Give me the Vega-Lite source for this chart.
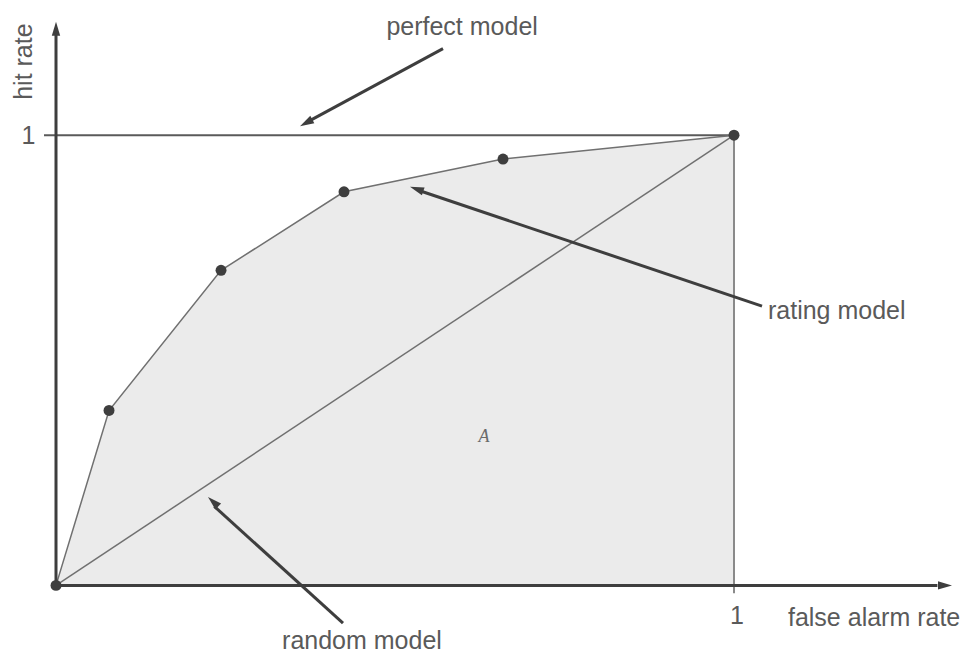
{
  "$schema": "https://vega.github.io/schema/vega-lite/v6.json",
  "width": 962,
  "height": 654,
  "padding": 0,
  "autosize": {"type": "fit", "contains": "padding"},
  "background": "white",
  "config": {"view": {"stroke": null}},
  "datasets": {
    "roc": [
      {"far": 0, "hit": 0},
      {"far": 0.0782, "hit": 0.3885},
      {"far": 0.2434, "hit": 0.6998},
      {"far": 0.4248, "hit": 0.8742},
      {"far": 0.6593, "hit": 0.947},
      {"far": 1, "hit": 1}
    ]
  },
  "encoding": {
    "x": {"type": "quantitative", "scale": {"domain": [-0.0826, 1.33628], "nice": false, "zero": false}, "axis": null},
    "y": {"type": "quantitative", "scale": {"domain": [-0.14349, 1.30022], "nice": false, "zero": false}, "axis": null}
  },
  "layer": [
    {
      "data": {"name": "roc"},
      "mark": {"type": "area", "color": "#ebebeb", "opacity": 1},
      "encoding": {
        "x": {"field": "far", "type": "quantitative"},
        "y": {"field": "hit", "type": "quantitative"},
        "y2": {"datum": 0}
      }
    },
    {
      "data": {"values": [{"x": 0, "y": 0, "x2": 1, "y2": 1}]},
      "mark": {"type": "rule", "color": "#707070", "strokeWidth": 1.5},
      "encoding": {
        "x": {"field": "x", "type": "quantitative"},
        "y": {"field": "y", "type": "quantitative"},
        "x2": {"field": "x2"},
        "y2": {"field": "y2"}
      }
    },
    {
      "data": {"values": [{"x": -0.0177, "y": 1, "x2": 1, "y2": 1}]},
      "mark": {"type": "rule", "color": "#5a5a5a", "strokeWidth": 2},
      "encoding": {
        "x": {"field": "x", "type": "quantitative"},
        "y": {"field": "y", "type": "quantitative"},
        "x2": {"field": "x2"},
        "y2": {"field": "y2"}
      }
    },
    {
      "data": {"values": [{"x": 1, "y": -0.0177, "x2": 1, "y2": 1}]},
      "mark": {"type": "rule", "color": "#8a8a8a", "strokeWidth": 2},
      "encoding": {
        "x": {"field": "x", "type": "quantitative"},
        "y": {"field": "y", "type": "quantitative"},
        "x2": {"field": "x2"},
        "y2": {"field": "y2"}
      }
    },
    {
      "data": {"name": "roc"},
      "mark": {"type": "line", "color": "#707070", "strokeWidth": 1.5},
      "encoding": {
        "x": {"field": "far", "type": "quantitative"},
        "y": {"field": "hit", "type": "quantitative"}
      }
    },
    {
      "data": {"values": [
        {"x": 0, "y": 0, "x2": 0, "y2": 1.235},
        {"x": 0, "y": 0, "x2": 1.30, "y2": 0}
      ]},
      "mark": {"type": "rule", "color": "#3e3e3e", "strokeWidth": 3},
      "encoding": {
        "x": {"field": "x", "type": "quantitative"},
        "y": {"field": "y", "type": "quantitative"},
        "x2": {"field": "x2"},
        "y2": {"field": "y2"}
      }
    },
    {
      "data": {"values": [
        {"x": 0.5708, "y": 1.1921, "x2": 0.371, "y2": 1.0295},
        {"x": 1.0413, "y": 0.6203, "x2": 0.5365, "y2": 0.8765},
        {"x": 0.4233, "y": -0.0839, "x2": 0.2335, "y2": 0.1755}
      ]},
      "mark": {"type": "rule", "color": "#3e3e3e", "strokeWidth": 3},
      "encoding": {
        "x": {"field": "x", "type": "quantitative"},
        "y": {"field": "y", "type": "quantitative"},
        "x2": {"field": "x2"},
        "y2": {"field": "y2"}
      }
    },
    {
      "data": {"values": [{"x": 0, "y": 1.2517}]},
      "mark": {"type": "point", "shape": "M0,0L-0.6,2L0.6,2Z", "filled": true, "color": "#3e3e3e", "opacity": 1, "size": 196, "angle": 0},
      "encoding": {"x": {"field": "x", "type": "quantitative"}, "y": {"field": "y", "type": "quantitative"}}
    },
    {
      "data": {"values": [{"x": 1.3215, "y": 0}]},
      "mark": {"type": "point", "shape": "M0,0L-0.6,2L0.6,2Z", "filled": true, "color": "#3e3e3e", "opacity": 1, "size": 196, "angle": 90},
      "encoding": {"x": {"field": "x", "type": "quantitative"}, "y": {"field": "y", "type": "quantitative"}}
    },
    {
      "data": {"values": [{"x": 0.3599, "y": 1.0199}]},
      "mark": {"type": "point", "shape": "M0,0L-0.6,2L0.6,2Z", "filled": true, "color": "#3e3e3e", "opacity": 1, "size": 196, "angle": 241.4},
      "encoding": {"x": {"field": "x", "type": "quantitative"}, "y": {"field": "y", "type": "quantitative"}}
    },
    {
      "data": {"values": [{"x": 0.5221, "y": 0.8852}]},
      "mark": {"type": "point", "shape": "M0,0L-0.6,2L0.6,2Z", "filled": true, "color": "#3e3e3e", "opacity": 1, "size": 196, "angle": 288.8},
      "encoding": {"x": {"field": "x", "type": "quantitative"}, "y": {"field": "y", "type": "quantitative"}}
    },
    {
      "data": {"values": [{"x": 0.2242, "y": 0.1965}]},
      "mark": {"type": "point", "shape": "M0,0L-0.6,2L0.6,2Z", "filled": true, "color": "#3e3e3e", "opacity": 1, "size": 196, "angle": 313.25},
      "encoding": {"x": {"field": "x", "type": "quantitative"}, "y": {"field": "y", "type": "quantitative"}}
    },
    {
      "data": {"name": "roc"},
      "mark": {"type": "circle", "color": "#3e3e3e", "opacity": 1, "size": 120},
      "encoding": {
        "x": {"field": "far", "type": "quantitative"},
        "y": {"field": "hit", "type": "quantitative"}
      }
    },
    {
      "data": {"values": [
        {"x": 0.599, "y": 1.2406, "label": "perfect model"},
        {"x": 0.4513, "y": -0.1236, "label": "random model"},
        {"x": 1.0044, "y": -0.0684, "label": "1"}
      ]},
      "mark": {"type": "text", "font": "Liberation Sans", "fontSize": 25, "color": "#5a5a5a", "align": "center", "baseline": "middle"},
      "encoding": {
        "x": {"field": "x", "type": "quantitative"},
        "y": {"field": "y", "type": "quantitative"},
        "text": {"field": "label"}
      }
    },
    {
      "data": {"values": [
        {"x": 1.0501, "y": 0.6093, "label": "rating model"},
        {"x": 1.0796, "y": -0.0728, "label": "false alarm rate"}
      ]},
      "mark": {"type": "text", "font": "Liberation Sans", "fontSize": 25, "color": "#5a5a5a", "align": "left", "baseline": "middle"},
      "encoding": {
        "x": {"field": "x", "type": "quantitative"},
        "y": {"field": "y", "type": "quantitative"},
        "text": {"field": "label"}
      }
    },
    {
      "data": {"values": [{"x": -0.0305, "y": 0.9978, "label": "1"}]},
      "mark": {"type": "text", "font": "Liberation Sans", "fontSize": 25, "color": "#5a5a5a", "align": "right", "baseline": "middle"},
      "encoding": {
        "x": {"field": "x", "type": "quantitative"},
        "y": {"field": "y", "type": "quantitative"},
        "text": {"field": "label"}
      }
    },
    {
      "data": {"values": [{"x": -0.0472, "y": 1.1634, "label": "hit rate"}]},
      "mark": {"type": "text", "font": "Liberation Sans", "fontSize": 25, "color": "#5a5a5a", "align": "center", "baseline": "middle", "angle": 270},
      "encoding": {
        "x": {"field": "x", "type": "quantitative"},
        "y": {"field": "y", "type": "quantitative"},
        "text": {"field": "label"}
      }
    },
    {
      "data": {"values": [{"x": 0.6313, "y": 0.3289, "label": "A"}]},
      "mark": {"type": "text", "font": "Liberation Serif", "fontStyle": "italic", "fontSize": 18, "color": "#6a6a6a", "align": "center", "baseline": "middle"},
      "encoding": {
        "x": {"field": "x", "type": "quantitative"},
        "y": {"field": "y", "type": "quantitative"},
        "text": {"field": "label"}
      }
    }
  ]
}
